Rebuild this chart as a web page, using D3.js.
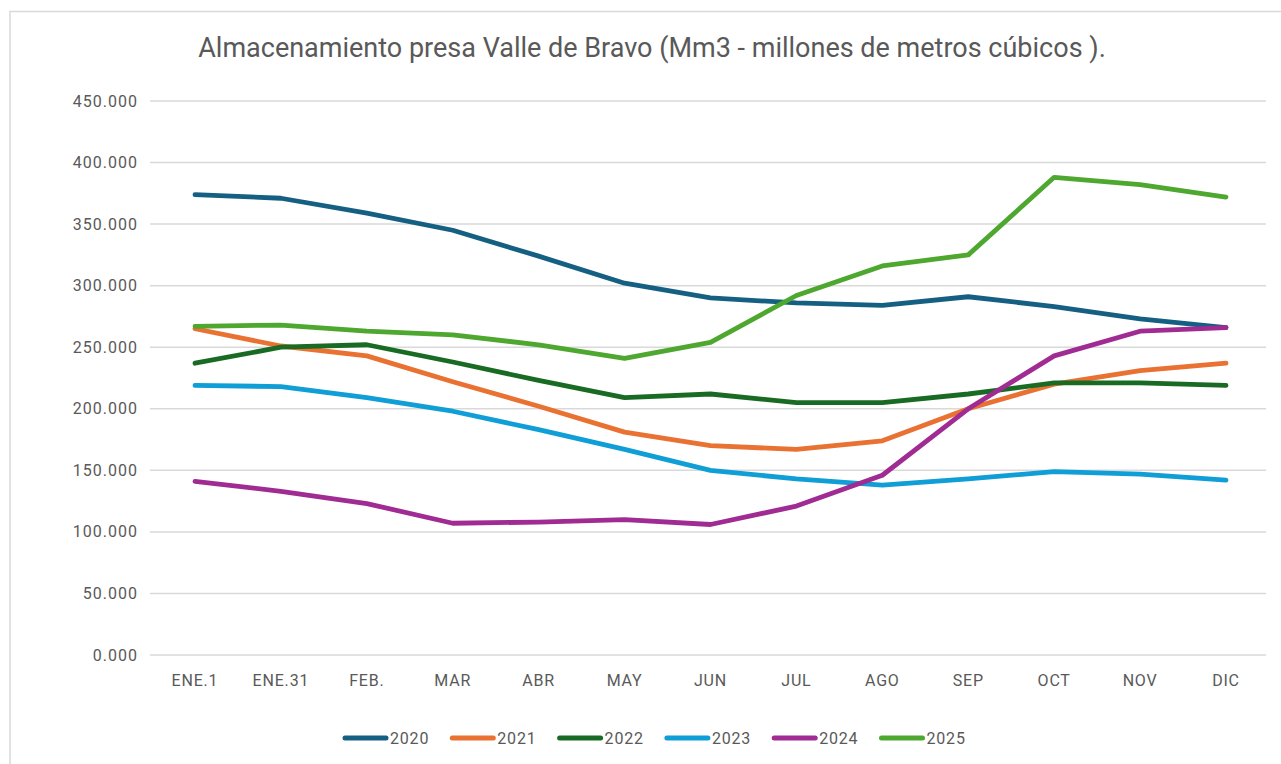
<!DOCTYPE html>
<html>
  <head>
    <meta charset="utf-8" />
    <style>
      body { margin: 0; background: #fff; }
      svg { display: block; font-family: Roboto, "Noto Sans", sans-serif; }
    </style>
  </head>
  <body>
    <svg id="chart"></svg>

    <script src="https://cdn.jsdelivr.net/npm/d3@7"></script>
    <script>
      const months = ["ENE.1", "ENE.31", "FEB.", "MAR", "ABR", "MAY", "JUN", "JUL", "AGO", "SEP", "OCT", "NOV", "DIC"];
      const years = ["2020", "2021", "2022", "2023", "2024", "2025"];

      const v2020 = [374, 371, 359, 345, 324, 302, 290, 286, 284, 291, 283, 273, 266];
      const v2021 = [265, 251, 243, 222, 202, 181, 170, 167, 174, 200, 220, 231, 237];
      const v2022 = [237, 250, 252, 238, 223, 209, 212, 205, 205, 212, 221, 221, 219];
      const v2023 = [219, 218, 209, 198, 183, 167, 150, 143, 138, 143, 149, 147, 142];
      const v2024 = [141, 133, 123, 107, 108, 110, 106, 121, 146, 200, 243, 263, 266];
      const v2025 = [267, 268, 263, 260, 252, 241, 254, 292, 316, 325, 388, 382, 372];

      const yTicks = [0, 50, 100, 150, 200, 250, 300, 350, 400, 450];
      const colors = ["#156082", "#e97132", "#196b24", "#0f9ed5", "#a02b93", "#4ea72e"];

      const series = [v2020, v2021, v2022, v2023, v2024, v2025].map((values, i) => ({
        name: years[i],
        color: colors[i],
        values: values,
      }));

      const width = 1281;
      const height = 764;

      const svg = d3.select("#chart").attr("width", width).attr("height", height);

      // chart frame (only top and left edges show in the screenshot)
      svg.append("path")
        .attr("d", "M10,764 V11.5 H1281")
        .attr("fill", "none")
        .attr("stroke", "#d9d9d9")
        .attr("stroke-width", 1.5);

      const x = d3.scalePoint().domain(months).range([195, 1226]);
      const y = d3.scaleLinear().domain([0, 450]).range([655, 101]);

      // title
      svg.append("text")
        .attr("x", 652)
        .attr("y", 57)
        .attr("text-anchor", "middle")
        .attr("fill", "#595959")
        .attr("font-size", 27)
        .text("Almacenamiento presa Valle de Bravo (Mm3 - millones de metros cúbicos ).");

      // gridlines + y labels
      const grid = svg.append("g");
      grid.selectAll("line")
        .data(yTicks)
        .join("line")
        .attr("x1", 150)
        .attr("x2", 1266)
        .attr("y1", (d) => y(d))
        .attr("y2", (d) => y(d))
        .attr("stroke", "#d9d9d9")
        .attr("stroke-width", 1.5);

      grid.selectAll("text")
        .data(yTicks)
        .join("text")
        .attr("x", 138)
        .attr("y", (d) => y(d))
        .attr("dy", "0.35em")
        .attr("text-anchor", "end")
        .attr("fill", "#595959")
        .attr("font-size", 16)
        .attr("letter-spacing", 1)
        .text((d) => d3.format(".3f")(d));

      // x labels
      svg.append("g")
        .selectAll("text")
        .data(months)
        .join("text")
        .attr("x", (d) => x(d))
        .attr("y", 686)
        .attr("text-anchor", "middle")
        .attr("fill", "#595959")
        .attr("font-size", 16)
        .attr("letter-spacing", 0.8)
        .text((d) => d);

      const line = d3.line()
        .x((d, i) => x(months[i]))
        .y((d) => y(d));

      svg.append("g")
        .selectAll("path")
        .data(series)
        .join("path")
        .attr("fill", "none")
        .attr("stroke", (d) => d.color)
        .attr("stroke-width", 4.8)
        .attr("stroke-linejoin", "round")
        .attr("stroke-linecap", "round")
        .attr("d", (d) => line(d.values));

      // legend
      const legend = svg.append("g")
        .selectAll("g")
        .data(series)
        .join("g")
        .attr("transform", (d, i) => `translate(${345 + i * 107.3},738)`);

      legend.append("line")
        .attr("x1", 0)
        .attr("x2", 41)
        .attr("stroke", (d) => d.color)
        .attr("stroke-width", 5)
        .attr("stroke-linecap", "round");

      legend.append("text")
        .attr("x", 45)
        .attr("dy", "0.35em")
        .attr("fill", "#595959")
        .attr("font-size", 16)
        .attr("letter-spacing", 0.8)
        .text((d) => d.name);
    </script>
  </body>
</html>
